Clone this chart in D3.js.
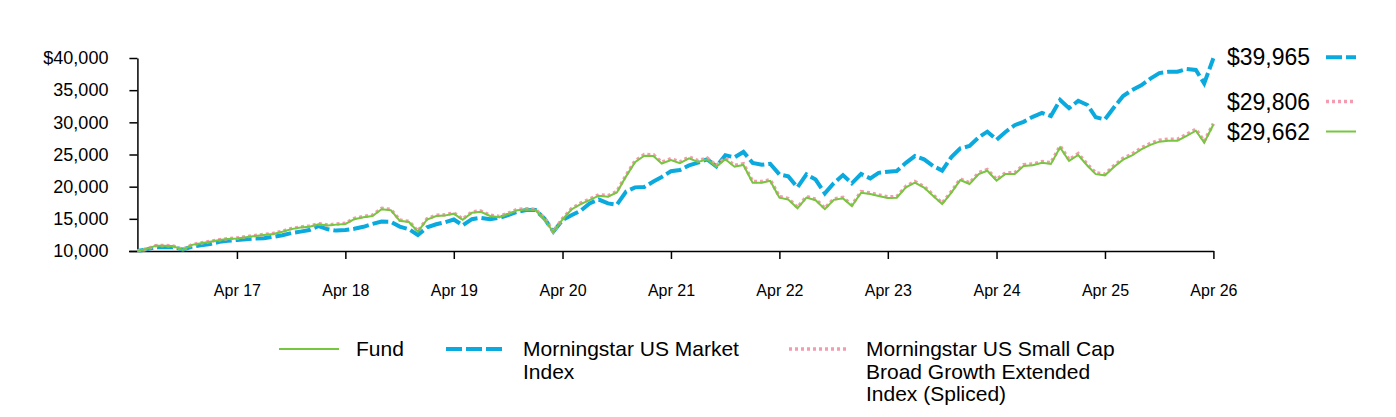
<!DOCTYPE html>
<html>
<head>
<meta charset="utf-8">
<script src="https://cdn.jsdelivr.net/npm/d3@7"></script>
<style>
  html, body { margin: 0; padding: 0; background: #fff; }
  svg { display: block; font-family: Arial, "Liberation Sans", sans-serif; }
  .axis path, .axis line { stroke: #000; stroke-width: 1.5; }
  .axis text { fill: #000; }
</style>
</head>
<body>
<svg id="chart" width="1396" height="417"></svg>
<script>
// monthly values, May 2016 .. Apr 2026
const startMonth = '2016-05-01';

const fund = [
  10000, 10300, 10800, 10830, 10700, 10180, 10950, 11200, 11450, 11700, 11850, 11950,
  12150, 12330, 12500, 12650, 13000, 13400, 13650, 13780, 14150, 13950, 14100, 14200,
  14950, 15250, 15450, 16500, 16350, 14700, 14500, 13000, 14900, 15440, 15500, 15800,
  14850, 15950, 16100, 15450, 15250, 15750, 16350, 16450, 16370, 14900, 12900, 14900,
  16450, 17300, 17900, 18600, 18450, 19100, 21600, 23800, 24800, 24750, 23600, 24150,
  23650, 24400, 23850, 24250, 23100, 24250, 23100, 23380, 20620, 20620, 20900, 18300,
  17990, 16630, 18300, 17900, 16500, 17950, 18180, 17000, 19050, 18860, 18560, 18250,
  18290, 19890, 20620, 19850, 18550, 17300, 19070, 21030, 20410, 21970, 22480, 20950,
  21970, 21970, 23200, 23330, 23700, 23530, 26110, 24000, 24920, 23250, 21950, 21760,
  23050, 24200, 24850, 25800, 26500, 27000, 27150, 27150, 27900, 28700, 26840, 29662
];

const market = [
  10000, 10250, 10570, 10570, 10570, 10200, 10700, 10880, 11070, 11430, 11580, 11710,
  11840, 11960, 12000, 12200, 12460, 12780, 13010, 13250, 13880, 13370, 13170, 13250,
  13460, 13760, 14200, 14570, 14550, 13800, 13380, 12500, 13680, 14150, 14450, 14900,
  14000, 14950, 15160, 14950, 15150, 15600, 16100, 16370, 16370, 15000, 13000, 14800,
  15570, 16250, 17400, 18000, 17400, 17200, 19250, 19890, 19950, 20800, 21500, 22400,
  22590, 23300, 23730, 24250, 23150, 24900, 24550, 25400, 23700, 23400, 23560, 21900,
  21600, 19890, 21900, 21100, 18960, 20550, 21800, 20520, 21970, 21290, 22150, 22330,
  22430, 23700, 24760, 24250, 23210, 22500, 24600, 25950, 26320, 27660, 28550, 27300,
  28500, 29550, 30080, 30860, 31480, 30980, 33470, 32200, 33360, 32700, 30780, 30460,
  32300, 34100, 35000, 35750, 36800, 37650, 37850, 37870, 38300, 38150, 36060, 39965
];

const smallCap = [
  10000, 10310, 10830, 10870, 10740, 10220, 11000, 11250, 11510, 11760, 11910, 12020,
  12220, 12400, 12580, 12730, 13080, 13490, 13740, 13880, 14250, 14050, 14200, 14300,
  15060, 15360, 15570, 16630, 16480, 14810, 14610, 13100, 15020, 15560, 15620, 15930,
  14970, 16080, 16230, 15580, 15370, 15880, 16480, 16580, 16500, 15020, 13000, 15020,
  16580, 17440, 18050, 18750, 18600, 19260, 21780, 24000, 25010, 24960, 23800, 24350,
  23850, 24610, 24050, 24450, 23300, 24450, 23300, 23580, 20800, 20800, 21080, 18460,
  18150, 16780, 18460, 18060, 16650, 18110, 18340, 17150, 19220, 19030, 18720, 18410,
  18450, 20060, 20800, 20020, 18710, 17450, 19240, 21210, 20590, 22160, 22670, 21130,
  22160, 22160, 23400, 23530, 23900, 23730, 26330, 24200, 25130, 23450, 22140, 21950,
  23250, 24410, 25060, 26020, 26730, 27230, 27380, 27380, 28140, 28940, 27070, 29806
];

const yTicks = [10000, 15000, 20000, 25000, 30000, 35000, 40000];
const xTickYears = [2017, 2018, 2019, 2020, 2021, 2022, 2023, 2024, 2025, 2026];

const seriesNames = ['Fund', 'Morningstar US Market Index', 'Morningstar US Small Cap Broad Growth Extended Index (Spliced)'];

// ---- setup
const svg = d3.select('#chart');
const start = new Date(startMonth + 'T00:00:00Z');
const dates = fund.map((_, i) => d3.utcMonth.offset(start, i));

const xScale = d3.scaleUtc()
  .domain([new Date(Date.UTC(2016, 3, 1)), new Date(Date.UTC(2026, 3, 1))])
  .range([128.5, 1213.4]);

const yScale = d3.scaleLinear()
  .domain([10000, 40000])
  .range([251, 58]);

const x0 = xScale(dates[0]);

// x axis
const xAxis = svg.append('g')
  .attr('class', 'axis')
  .attr('transform', 'translate(0,' + yScale(10000) + ')')
  .call(d3.axisBottom(xScale)
    .tickValues(xTickYears.map(y => new Date(Date.UTC(y, 3, 1))))
    .tickFormat(d3.utcFormat('%b %y'))
    .tickSize(8)
    .tickSizeOuter(0));
xAxis.selectAll('text')
  .attr('font-size', 16)
  .attr('dy', 0)
  .attr('y', 45);

// y axis
const yAxis = svg.append('g')
  .attr('class', 'axis')
  .attr('transform', 'translate(' + x0 + ',0)')
  .call(d3.axisLeft(yScale)
    .tickValues(yTicks)
    .tickFormat(d => d === 40000 ? d3.format('$,')(d) : d3.format(',')(d))
    .tickSize(8)
    .tickSizeOuter(0));
yAxis.selectAll('text')
  .attr('font-size', 18)
  .attr('x', -29);

// lines
const lineGen = d3.line()
  .x((d, i) => xScale(dates[i]))
  .y(d => yScale(d));

const styles = {
  market: { color: '#0aa9de', width: 4, dash: '16,4' },
  smallCap: { color: '#f59bb0', width: 3.5, dash: '3,3' },
  fund: { color: '#76c63f', width: 2, dash: null }
};

svg.append('path').datum(market)
  .attr('d', lineGen)
  .attr('fill', 'none')
  .attr('stroke', styles.market.color)
  .attr('stroke-width', styles.market.width)
  .attr('stroke-dasharray', styles.market.dash);

svg.append('path').datum(smallCap)
  .attr('d', lineGen)
  .attr('fill', 'none')
  .attr('stroke', styles.smallCap.color)
  .attr('stroke-width', styles.smallCap.width)
  .attr('stroke-dasharray', styles.smallCap.dash);

svg.append('path').datum(fund)
  .attr('d', lineGen)
  .attr('fill', 'none')
  .attr('stroke', styles.fund.color)
  .attr('stroke-width', styles.fund.width);

// end labels
const endLabels = [
  { v: market[market.length - 1], s: styles.market, dy: -1 },
  { v: smallCap[smallCap.length - 1], s: styles.smallCap, dy: -22 },
  { v: fund[fund.length - 1], s: styles.fund, dy: 7 }
];
endLabels.forEach(l => {
  const y = yScale(l.v) + l.dy;
  svg.append('text')
    .attr('x', 1227)
    .attr('y', y)
    .attr('dy', '0.35em')
    .attr('font-size', 23)
    .text(d3.format('$,')(l.v));
  svg.append('line')
    .attr('x1', 1326).attr('x2', 1356)
    .attr('y1', y).attr('y2', y)
    .attr('stroke', l.s.color)
    .attr('stroke-width', l.s.width)
    .attr('stroke-dasharray', l.s.dash);
});

// legend
const legendItems = [
  { lines: ['Fund'], s: styles.fund, x: 279 },
  { lines: ['Morningstar US Market', 'Index'], s: styles.market, x: 446 },
  { lines: ['Morningstar US Small Cap', 'Broad Growth Extended', 'Index (Spliced)'], s: styles.smallCap, x: 789 }
];
legendItems.forEach(item => {
  svg.append('line')
    .attr('x1', item.x).attr('x2', item.x + 60)
    .attr('y1', 349).attr('y2', 349)
    .attr('stroke', item.s.color)
    .attr('stroke-width', item.s.width)
    .attr('stroke-dasharray', item.s.dash);
  const t = svg.append('text')
    .attr('x', item.x + 77)
    .attr('y', 349)
    .attr('font-size', 21);
  item.lines.forEach((ln, k) => {
    t.append('tspan')
      .attr('x', item.x + 77)
      .attr('dy', k === 0 ? '0.35em' : 22.5)
      .text(ln);
  });
});
</script>
</body>
</html>
